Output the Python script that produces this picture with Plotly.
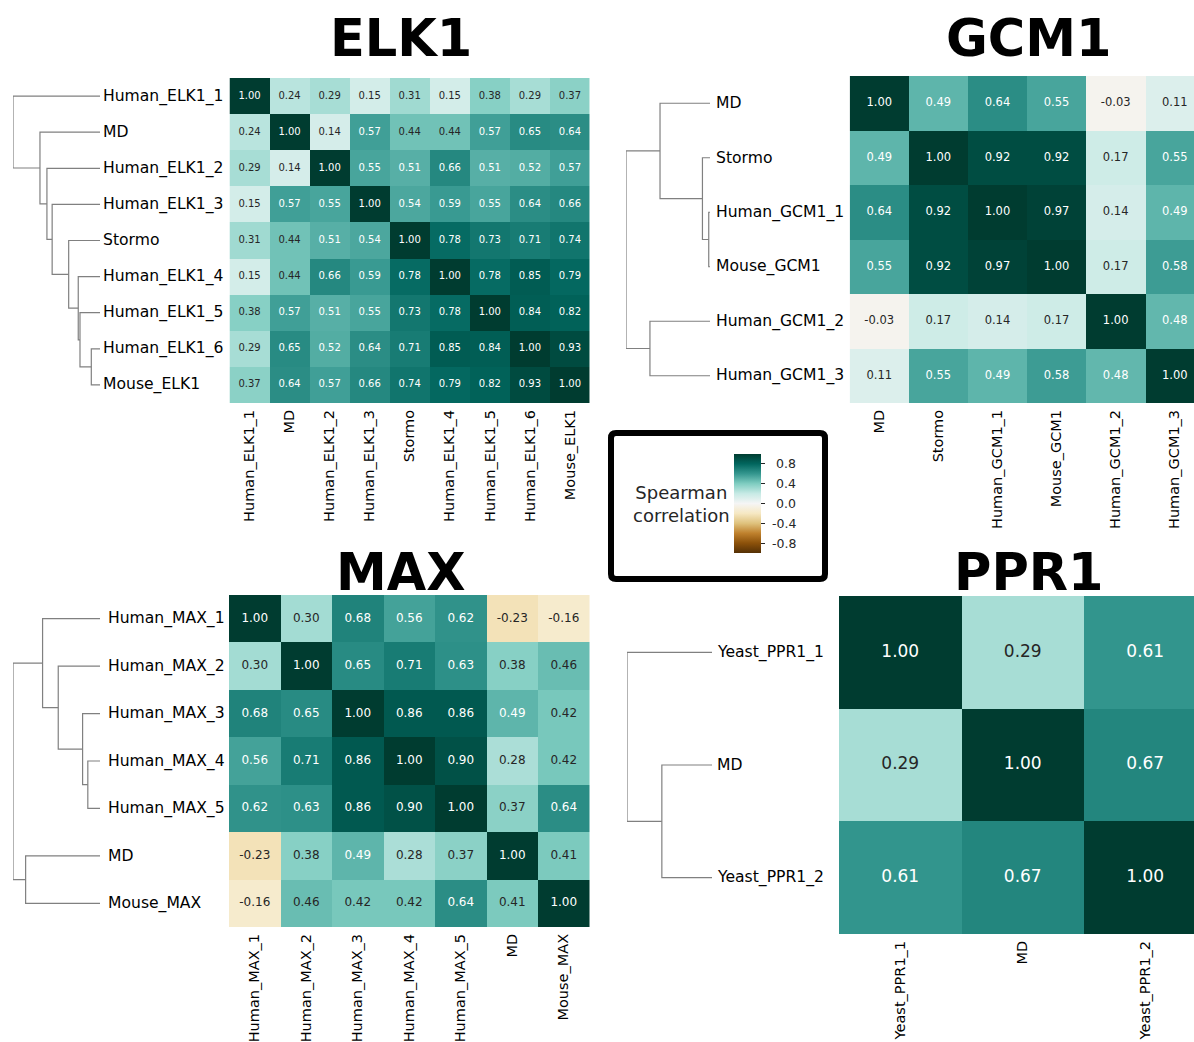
import numpy as np
import plotly.graph_objects as go

W, H = 1194, 1042
FONT = "DejaVu Sans"

# ---------------- data ----------------
elk1_labels = ["Human_ELK1_1", "MD", "Human_ELK1_2", "Human_ELK1_3", "Stormo",
               "Human_ELK1_4", "Human_ELK1_5", "Human_ELK1_6", "Mouse_ELK1"]
elk1_values = [
    [1.00, 0.24, 0.29, 0.15, 0.31, 0.15, 0.38, 0.29, 0.37],
    [0.24, 1.00, 0.14, 0.57, 0.44, 0.44, 0.57, 0.65, 0.64],
    [0.29, 0.14, 1.00, 0.55, 0.51, 0.66, 0.51, 0.52, 0.57],
    [0.15, 0.57, 0.55, 1.00, 0.54, 0.59, 0.55, 0.64, 0.66],
    [0.31, 0.44, 0.51, 0.54, 1.00, 0.78, 0.73, 0.71, 0.74],
    [0.15, 0.44, 0.66, 0.59, 0.78, 1.00, 0.78, 0.85, 0.79],
    [0.38, 0.57, 0.51, 0.55, 0.73, 0.78, 1.00, 0.84, 0.82],
    [0.29, 0.65, 0.52, 0.64, 0.71, 0.85, 0.84, 1.00, 0.93],
    [0.37, 0.64, 0.57, 0.66, 0.74, 0.79, 0.82, 0.93, 1.00],
]
# merges: (child a, child b, height) ; leaves 0..n-1, clusters n, n+1, ...
elk1_merges = [(7, 8, 0.10), (6, 9, 0.23), (5, 10, 0.25), (4, 11, 0.36),
               (3, 12, 0.55), (2, 13, 0.61), (1, 14, 0.69), (0, 15, 1.00)]

gcm1_labels = ["MD", "Stormo", "Human_GCM1_1", "Mouse_GCM1", "Human_GCM1_2", "Human_GCM1_3"]
gcm1_values = [
    [1.00, 0.49, 0.64, 0.55, -0.03, 0.11],
    [0.49, 1.00, 0.92, 0.92, 0.17, 0.55],
    [0.64, 0.92, 1.00, 0.97, 0.14, 0.49],
    [0.55, 0.92, 0.97, 1.00, 0.17, 0.58],
    [-0.03, 0.17, 0.14, 0.17, 1.00, 0.48],
    [0.11, 0.55, 0.49, 0.58, 0.48, 1.00],
]
gcm1_merges = [(2, 3, 0.015), (1, 6, 0.09), (0, 7, 0.595), (4, 5, 0.715), (8, 9, 1.00)]

max_labels = ["Human_MAX_1", "Human_MAX_2", "Human_MAX_3", "Human_MAX_4",
              "Human_MAX_5", "MD", "Mouse_MAX"]
max_values = [
    [1.00, 0.30, 0.68, 0.56, 0.62, -0.23, -0.16],
    [0.30, 1.00, 0.65, 0.71, 0.63, 0.38, 0.46],
    [0.68, 0.65, 1.00, 0.86, 0.86, 0.49, 0.42],
    [0.56, 0.71, 0.86, 1.00, 0.90, 0.28, 0.42],
    [0.62, 0.63, 0.86, 0.90, 1.00, 0.37, 0.64],
    [-0.23, 0.38, 0.49, 0.28, 0.37, 1.00, 0.41],
    [-0.16, 0.46, 0.42, 0.42, 0.64, 0.41, 1.00],
]
max_merges = [(3, 4, 0.14), (2, 7, 0.20), (1, 8, 0.48), (0, 9, 0.66), (5, 6, 0.855), (10, 11, 1.00)]

ppr1_labels = ["Yeast_PPR1_1", "MD", "Yeast_PPR1_2"]
ppr1_values = [
    [1.00, 0.29, 0.61],
    [0.29, 1.00, 0.67],
    [0.61, 0.67, 1.00],
]
ppr1_merges = [(1, 2, 0.59), (0, 3, 1.00)]

colorbar_ticks = [-0.8, -0.4, 0.0, 0.4, 0.8]
colorbar_title = "Spearman<br>correlation"

# ---------------- colour map (BrBG) ----------------
brbg = [(84, 48, 5), (140, 81, 10), (191, 129, 45), (223, 194, 125), (246, 232, 195),
        (245, 245, 245), (199, 234, 229), (128, 205, 193), (53, 151, 143), (1, 102, 94), (0, 60, 48)]
colorscale = [[i / 10, "rgb(%d,%d,%d)" % c] for i, c in enumerate(brbg)]


def cmap(v):
    p = (v + 1) / 2 * 10
    i = int(min(max(np.floor(p), 0), 9))
    t = p - i
    c0, c1 = np.array(brbg[i], float), np.array(brbg[i + 1], float)
    return (c0 + (c1 - c0) * t) / 255.0


def text_color(v):
    rgb = cmap(v)
    rgb = np.where(rgb <= 0.03928, rgb / 12.92, ((rgb + 0.055) / 1.055) ** 2.4)
    lum = rgb.dot([0.2126, 0.7152, 0.0722])
    return "rgb(38,38,38)" if lum > 0.408 else "white"


# ---------------- layout of panels (pixels) ----------------
panels = [
    dict(title="ELK1", labels=elk1_labels, values=elk1_values, merges=elk1_merges,
         hm_left=229.5, cell_w=40.05, hm_top=78, hm_bottom=403,
         d_left=13, d_right=100, label_x=101, title_x=401, title_y=38, cell_font=10),
    dict(title="GCM1", labels=gcm1_labels, values=gcm1_values, merges=gcm1_merges,
         hm_left=849.7, cell_w=59.1, hm_top=76, hm_bottom=403,
         d_left=626, d_right=710, label_x=714, title_x=1029, title_y=38, cell_font=11.5),
    dict(title="MAX", labels=max_labels, values=max_values, merges=max_merges,
         hm_left=229, cell_w=51.5, hm_top=595, hm_bottom=927,
         d_left=13, d_right=100, label_x=106, title_x=401, title_y=572, cell_font=12),
    dict(title="PPR1", labels=ppr1_labels, values=ppr1_values, merges=ppr1_merges,
         hm_left=839, cell_w=122.5, hm_top=596, hm_bottom=934,
         d_left=627, d_right=712, label_x=715, title_x=1029, title_y=572, cell_font=17),
]

fig = go.Figure()
annotations = []
layout_axes = {}


def px_x(x):
    return x / W


def px_y(y):
    return 1 - y / H


def axname(k, a):
    return a + ("" if k == 1 else str(k))


CB_TOP, CB_BOTTOM = 454, 553

for pi, p in enumerate(panels):
    n = len(p["labels"])
    hk = 2 * pi + 1
    dk = 2 * pi + 2
    z = np.array(p["values"], float)
    right_px = min(p["hm_left"] + n * p["cell_w"], W)
    x_range_right = -0.5 + (right_px - p["hm_left"]) / p["cell_w"]

    fig.add_trace(go.Heatmap(
        z=z, x=list(range(n)), y=list(range(n)),
        colorscale=colorscale, zmin=-1, zmax=1,
        xaxis=axname(hk, "x"), yaxis=axname(hk, "y"),
        showscale=(pi == 0), hoverinfo="skip",
        colorbar=dict(thickness=27, thicknessmode="pixels",
                      len=CB_BOTTOM - CB_TOP, lenmode="pixels",
                      x=px_x(734), xanchor="left", xpad=0,
                      y=px_y((CB_TOP + CB_BOTTOM) / 2), yanchor="middle", ypad=0,
                      tickvals=colorbar_ticks, ticks="outside", ticklen=4, tickwidth=1,
                      tickcolor="#262626", showticklabels=False, outlinewidth=0),
    ))
    xs, ys, txt, cols = [], [], [], []
    for i in range(n):
        for j in range(n):
            xs.append(j)
            ys.append(i)
            txt.append("%.2f" % z[i, j])
            cols.append(text_color(z[i, j]))
    fig.add_trace(go.Scatter(
        x=xs, y=ys, mode="text", text=txt,
        textfont=dict(family=FONT, size=p["cell_font"], color=cols),
        xaxis=axname(hk, "x"), yaxis=axname(hk, "y"), hoverinfo="skip", showlegend=False,
    ))

    layout_axes[axname(hk, "xaxis")] = dict(
        domain=[px_x(p["hm_left"]), px_x(right_px)], range=[-0.5, x_range_right],
        anchor=axname(hk, "y"), tickvals=list(range(n)), ticktext=p["labels"],
        tickangle=-90, tickfont=dict(family=FONT, size=14.5, color="black"),
        showgrid=False, zeroline=False, showline=False, ticks="", ticklabelstandoff=3,
    )
    layout_axes[axname(hk, "yaxis")] = dict(
        domain=[px_y(p["hm_bottom"]), px_y(p["hm_top"])], range=[n - 0.5, -0.5],
        anchor=axname(hk, "x"), showticklabels=False, showgrid=False, zeroline=False,
        showline=False, ticks="",
    )

    # dendrogram from merges
    pos = {i: float(i) for i in range(n)}
    hgt = {i: 0.0 for i in range(n)}
    lx, ly = [], []
    for m, (a, b, h) in enumerate(p["merges"]):
        cid = n + m
        lx += [hgt[a], h, h, hgt[b], None]
        ly += [pos[a], pos[a], pos[b], pos[b], None]
        pos[cid] = (pos[a] + pos[b]) / 2
        hgt[cid] = h
    root_h = max(h for _, _, h in p["merges"])
    fig.add_trace(go.Scatter(
        x=lx, y=ly, mode="lines", line=dict(color="#808080", width=1.2),
        xaxis=axname(dk, "x"), yaxis=axname(dk, "y"), hoverinfo="skip", showlegend=False,
        cliponaxis=False,
    ))
    layout_axes[axname(dk, "xaxis")] = dict(
        domain=[px_x(p["d_left"]), px_x(p["d_right"])], range=[root_h, 0],
        anchor=axname(dk, "y"), visible=False,
    )
    layout_axes[axname(dk, "yaxis")] = dict(
        domain=[px_y(p["hm_bottom"]), px_y(p["hm_top"])], range=[n - 0.5, -0.5],
        anchor=axname(dk, "x"), visible=False,
    )
    for i, lab in enumerate(p["labels"]):
        annotations.append(dict(
            text=lab, xref="paper", x=px_x(p["label_x"]), xanchor="left",
            yref=axname(dk, "y"), y=i, yanchor="middle", showarrow=False,
            font=dict(family=FONT, size=15.6, color="black"),
        ))
    annotations.append(dict(
        text="<b>%s</b>" % p["title"], xref="paper", yref="paper",
        x=px_x(p["title_x"]), y=px_y(p["title_y"]), xanchor="center", yanchor="middle",
        showarrow=False, font=dict(family=FONT, size=51, color="black"),
    ))

# colour bar tick labels (right aligned, as in the reference)
for t in colorbar_ticks:
    yy = CB_BOTTOM - (t + 1) / 2 * (CB_BOTTOM - CB_TOP)
    annotations.append(dict(
        text="%.1f" % t, xref="paper", yref="paper", x=px_x(798), y=px_y(yy),
        xanchor="right", yanchor="middle", showarrow=False,
        font=dict(family=FONT, size=12.5, color="#262626"),
    ))

# colour bar legend box
annotations.append(dict(
    text=colorbar_title, xref="paper", yref="paper", x=px_x(681), y=px_y(504),
    xanchor="center", yanchor="middle", showarrow=False, align="center",
    font=dict(family=FONT, size=18, color="#262626"),
))

x0, x1, y0, y1, r = 611, 825, 433, 579, 5
path = ("M {a},{b} L {c},{b} Q {d},{b} {d},{e} L {d},{f} Q {d},{g} {c},{g} "
        "L {a},{g} Q {h},{g} {h},{f} L {h},{e} Q {h},{b} {a},{b} Z").format(
    a=px_x(x0 + r), c=px_x(x1 - r), d=px_x(x1), h=px_x(x0),
    b=px_y(y0), e=px_y(y0 + r), f=px_y(y1 - r), g=px_y(y1))
shapes = [dict(type="path", xref="paper", yref="paper", path=path,
               line=dict(color="black", width=6), fillcolor="white", layer="below")]

fig.update_layout(
    width=W, height=H, margin=dict(l=0, r=0, t=0, b=0),
    paper_bgcolor="white", plot_bgcolor="white", showlegend=False,
    annotations=annotations, shapes=shapes, font=dict(family=FONT),
    **layout_axes,
)

fig.write_html("out.html", config={"displayModeBar": False},
               post_script="document.body.style.margin='0';")
